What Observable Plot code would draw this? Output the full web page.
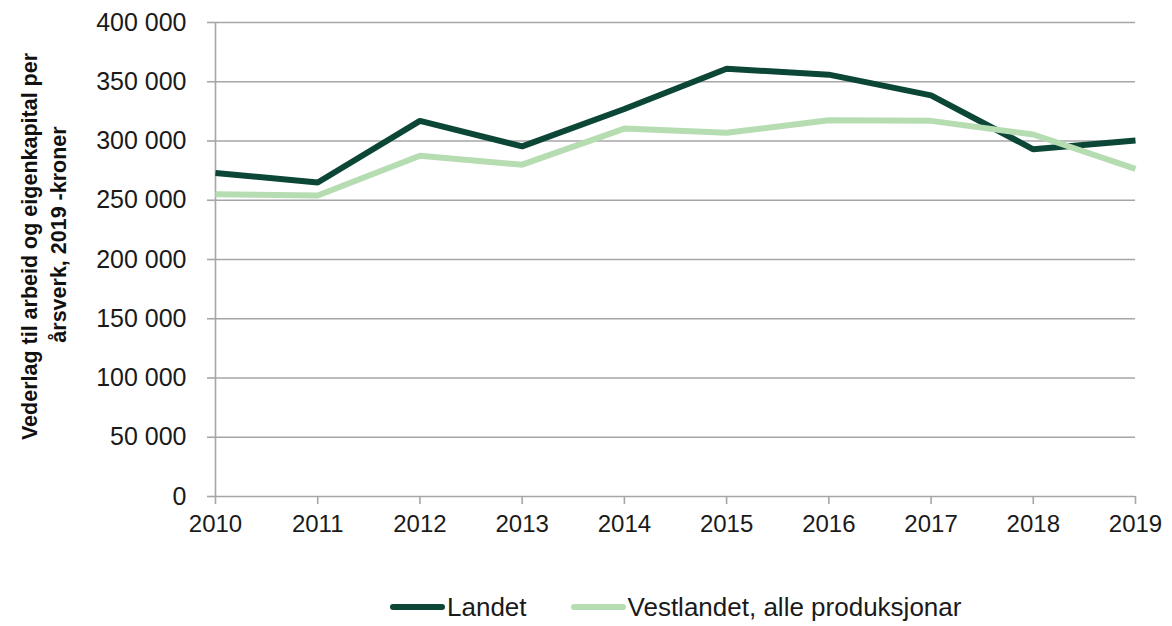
<!DOCTYPE html>
<html>
<head>
<meta charset="utf-8">
<script src="https://cdn.jsdelivr.net/npm/d3@7"></script>
<script src="https://cdn.jsdelivr.net/npm/@observablehq/plot@0.6"></script>
<style>
  body { margin: 0; background: #fff; font-family: "Liberation Sans", Arial, sans-serif; }
  #wrap { width: 1172px; height: 626px; position: relative; overflow: hidden; }
  #legend { position: absolute; left: 390px; top: 588px; height: 38px; display: flex; align-items: center; font-size: 26px; color: #1a1a1a; white-space: nowrap; }
  .item { display: flex; align-items: center; margin-right: 44px; }
  .sw { width: 55px; height: 6px; margin-right: 2px; border-radius: 3px; }
</style>
</head>
<body>
<div id="wrap"></div>
<script>
const years = [2010, 2011, 2012, 2013, 2014, 2015, 2016, 2017, 2018, 2019];
const landet = [273000, 265000, 317000, 295500, 327000, 361000, 356000, 338500, 293000, 300500];
const vestlandet = [255000, 254000, 287500, 280000, 310500, 307000, 317500, 317000, 305500, 276500];
const seriesNames = ["Landet", "Vestlandet, alle produksjonar"];
const seriesColors = ["#0b4636", "#b6dcb2"];
const yTicks = [0, 50000, 100000, 150000, 200000, 250000, 300000, 350000, 400000];
const yTitle = ["Vederlag til arbeid og eigenkapital per", "årsverk, 2019 -kroner"];

const data = [];
years.forEach((y, i) => {
  data.push({year: y, value: landet[i], series: seriesNames[0]});
  data.push({year: y, value: vestlandet[i], series: seriesNames[1]});
});

const fmt = v => d3.format(",")(v).replace(/,/g, " ");

const chart = Plot.plot({
  width: 1172,
  height: 560,
  marginLeft: 215,
  marginRight: 37,
  marginTop: 22,
  marginBottom: 64,
  style: {fontFamily: "Liberation Sans, Arial, sans-serif", background: "#fff"},
  x: {domain: [2010, 2019]},
  y: {domain: [0, 400000]},
  color: {domain: seriesNames, range: seriesColors},
  marks: [
    Plot.ruleY(yTicks, {stroke: "#a6a6a6", strokeWidth: 1.6}),
    Plot.axisY({ticks: yTicks, tickFormat: fmt, tickSize: 8, tickPadding: 21, stroke: "#a6a6a6", strokeWidth: 1.6, strokeOpacity: 1, fontSize: 25, fill: "#1a1a1a", label: null}),
    Plot.ruleX([2010], {stroke: "#a6a6a6", strokeWidth: 1.6}),
    Plot.axisX({ticks: years, tickFormat: d => String(d), tickSize: 8, tickPadding: 10, stroke: "#a6a6a6", strokeWidth: 1.6, strokeOpacity: 1, fontSize: 24, fill: "#1a1a1a", label: null}),
    Plot.lineY(data, {x: "year", y: "value", z: "series", stroke: "series", strokeWidth: 6, strokeLinejoin: "miter", strokeLinecap: "butt"}),
    Plot.text([yTitle[0]], {frameAnchor: "left", textAnchor: "middle", rotate: -90, dx: -185, dy: -13, fontSize: 21.5, fontWeight: "bold", fill: "#111"}),
    Plot.text([yTitle[1]], {frameAnchor: "left", textAnchor: "middle", rotate: -90, dx: -156, dy: -25, fontSize: 21.5, fontWeight: "bold", fill: "#111"})
  ]
});
document.getElementById("wrap").appendChild(chart);

const legend = document.createElement("div");
legend.id = "legend";
seriesNames.forEach((n, i) => {
  const it = document.createElement("div");
  it.className = "item";
  const sw = document.createElement("div");
  sw.className = "sw";
  sw.style.background = seriesColors[i];
  const t = document.createElement("span");
  t.textContent = n;
  it.appendChild(sw); it.appendChild(t);
  legend.appendChild(it);
});
document.getElementById("wrap").appendChild(legend);
</script>
</body>
</html>
